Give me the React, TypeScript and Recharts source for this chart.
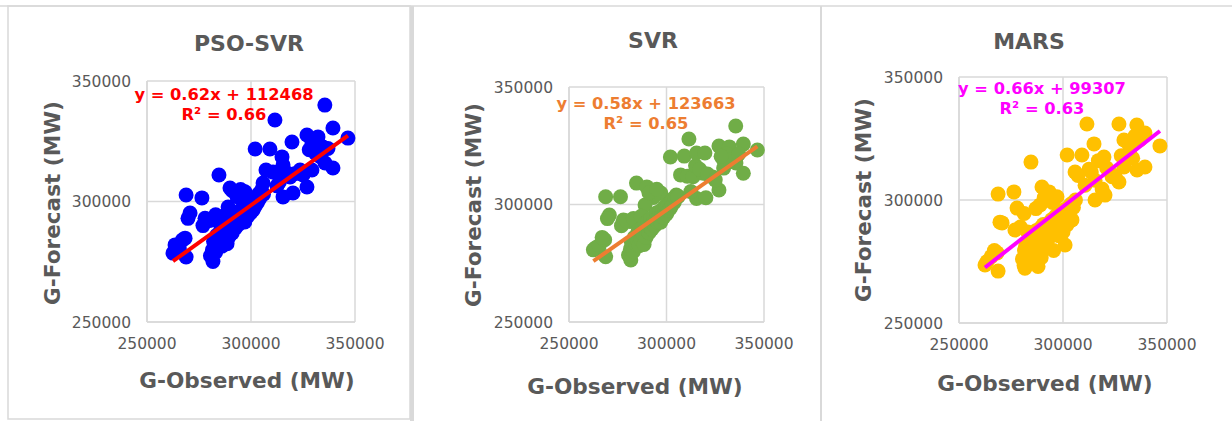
import { ScatterChart, Scatter, XAxis, YAxis, CartesianGrid } from "recharts";

// Test-set observations (MW), shared by all three models
const observed = [
  262500, 263500, 265500, 268300, 268800, 267000, 268800, 270700, 269700, 276400,
  277900, 281300, 276900, 279500, 283000, 284600, 289900, 297100, 293300, 289000,
  291000, 295000, 287000, 281700, 281300,
  280500, 281500, 282000, 283000, 283500, 284000, 285000, 285500, 286000, 286500,
  287000, 287500, 288000, 288500, 289000, 289500, 290000, 290500, 291000, 291500,
  292000, 292500, 293000, 293500, 294000, 294500, 295000, 295500, 296000, 296500,
  297000, 297500, 298000, 298500, 299000, 299500, 300000, 300500, 301000, 301500,
  302000, 302500, 303000, 303500, 304000, 304300, 305000, 306000,
  302000, 305800, 307200, 309100, 310600, 311500, 313600, 314900, 315400, 315400,
  318800, 319700, 320200, 323600, 326900, 326900, 329300, 329300, 332200, 334600,
  335500, 335600, 339400, 339400, 346600, 312500, 317000, 321000, 325000, 331000,
  333500, 337000, 328000,
];

const psoForecast = [
  278600, 282000, 280500, 284800, 277000, 284000, 302700, 295200, 293000, 301500,
  293000, 292300, 290000, 292000, 294500, 311000, 305600, 304000, 302000, 297700,
  304500, 305000, 294000, 275100, 278600,
  277500, 280000, 283500, 279000, 286000, 282500, 284000, 288500, 281500, 286500,
  284000, 289500, 287000, 282500, 291500, 285500, 288500, 292500, 287000, 290000,
  293500, 289000, 291500, 295000, 290500, 293000, 296500, 292000, 294500, 297500,
  291500, 295500, 298500, 294000, 297000, 300000, 295500, 298500, 296500, 300500,
  298000, 301500, 299500, 303000, 301000, 302000, 304500, 303000,
  321800, 307700, 313100, 321800, 312200, 333800, 308000, 318500, 315100, 301900,
  310200, 324700, 303500, 313100, 306000, 327600, 324300, 313100, 326800, 322600,
  340000, 316000, 330500, 313900, 326300, 306500, 312000, 311500, 311000, 320000,
  318500, 322000, 321500,
];

const svrForecast = [
  280700, 281500, 282500, 285000, 277800, 286000, 303300, 295500, 294000, 303300,
  293400, 292800, 291000, 293000, 294000, 309100, 307500, 304900, 303000, 299800,
  305000, 306500, 295000, 276400, 279000,
  278500, 281000, 284000, 280000, 286000, 283500, 285000, 289000, 282500, 287000,
  285000, 290000, 287500, 283000, 292000, 286000, 289000, 293000, 288000, 290500,
  294000, 289500, 292000, 295000, 291000, 293500, 296500, 292500, 295000, 297000,
  292500, 296000, 298000, 294500, 297500, 299500, 296000, 299000, 297500, 300500,
  298500, 301500, 300000, 302500, 301000, 303000, 304000, 303500,
  320200, 303300, 312600, 320600, 312000, 327900, 311800, 316500, 321900, 302600,
  313300, 321900, 302900, 311700, 306200, 324900, 318900, 315500, 324500, 320000,
  333400, 317700, 325700, 313300, 323200, 305500, 315000, 313000, 310500, 321500,
  319000, 321500, 320500,
];

const marsForecast = [
  273600, 275000, 277000, 278500, 271100, 279500, 302400, 290700, 291000, 303300,
  296700, 294500, 287800, 289000, 287000, 315400, 305300, 301300, 303300, 298000,
  301000, 299000, 296500, 272300, 273500,
  276000, 279500, 281000, 274000, 283500, 278000, 276500, 285000, 280500, 283000,
  287500, 278500, 273000, 284500, 288500, 276500, 282000, 290000, 285500, 280500,
  287500, 283500, 290500, 285000, 288000, 292000, 286500, 279500, 290000, 293500,
  288500, 291000, 285500, 294500, 289500, 292500, 287000, 296000, 281700, 293000,
  290000, 295500, 297500, 292500, 298500, 291900, 297000, 300000,
  318300, 311400, 310000, 318300, 306000, 330900, 311400, 322800, 308000, 300000,
  304500, 317500, 302000, 309500, 307300, 330900, 324400, 313400, 320700, 326000,
  330500, 312200, 327200, 313400, 322000, 312500, 316000, 313000, 310000, 323500,
  317000, 324500, 318000,
];

const titles = ["PSO-SVR", "SVR", "MARS"];
const slopes = [0.62, 0.58, 0.66];
const intercepts = [112468, 123663, 99307];
const rSquared = ["0.66", "0.65", "0.63"];
const axisTicks = [250000, 300000, 350000];

const forecasts = [psoForecast, svrForecast, marsForecast];
const pointColors = ["#0000FF", "#70AD47", "#FFC000"];
const lineColors = ["#FF0000", "#ED7D31", "#FF00FF"];

const FONT = "'DejaVu Sans', Verdana, sans-serif";
const GRAY = "#595959";
const GRID = "#D9D9D9";

// per-panel layout: chart box, plot margins, label anchors (page coords)
const panels = [
  { left: 0, width: 410, margin: { top: 81, right: 55, bottom: 69, left: 87 },
    title: [249, 43], yTitle: [52, 203], xTitle: [247, 380], eq: [224, 94] },
  { left: 410, width: 410, margin: { top: 87, right: 56, bottom: 69, left: 99 },
    title: [653, 40], yTitle: [473, 205], xTitle: [635, 386], eq: [646, 103] },
  { left: 820, width: 412, margin: { top: 77, right: 65, bottom: 68, left: 79 },
    title: [1029, 41], yTitle: [863, 200], xTitle: [1045, 383], eq: [1042, 88] },
];

const xMin = Math.min(...observed);
const xMax = Math.max(...observed);

function Panel({ idx }: { idx: number }) {
  const p = panels[idx];
  const data = observed.map((x, i) => ({ x, y: forecasts[idx][i] }));
  const fit = (x: number) => slopes[idx] * x + intercepts[idx];
  const trend = [
    { x: xMin, y: fit(xMin) },
    { x: xMax, y: fit(xMax) },
  ];
  const color = pointColors[idx];

  return (
    <div style={{ position: "absolute", left: p.left, top: 0 }}>
      <ScatterChart width={p.width} height={421} margin={p.margin}>
        <CartesianGrid stroke={GRID} strokeWidth={1.5} />
        <XAxis
          type="number"
          dataKey="x"
          domain={[250000, 350000]}
          ticks={axisTicks}
          height={30}
          tickLine={false}
          tickMargin={10}
          axisLine={{ stroke: GRID, strokeWidth: 1.5 }}
          tick={{ fill: GRAY, fontSize: 15.5, fontFamily: FONT }}
        />
        <YAxis
          type="number"
          dataKey="y"
          domain={[250000, 350000]}
          ticks={axisTicks}
          width={60}
          tickLine={false}
          tickMargin={10}
          axisLine={{ stroke: GRID, strokeWidth: 1.5 }}
          tick={{ fill: GRAY, fontSize: 15.5, fontFamily: FONT }}
        />
        <Scatter
          data={data}
          fill={color}
          isAnimationActive={false}
          shape={(props: any) => <circle cx={props.cx} cy={props.cy} r={7.5} fill={color} />}
        />
        <Scatter
          data={trend}
          fill="none"
          line={{ stroke: lineColors[idx], strokeWidth: 4 }}
          isAnimationActive={false}
          shape={() => <g />}
        />
      </ScatterChart>
    </div>
  );
}

export default function App() {
  return (
    <div style={{ position: "absolute", left: 0, top: 0, width: 1232, height: 421, background: "#fff" }}>
      {[0, 1, 2].map((i) => (
        <Panel key={i} idx={i} />
      ))}
      <svg width={1232} height={421} style={{ position: "absolute", left: 0, top: 0, pointerEvents: "none" }}>
        {/* panel frames */}
        <line x1={0} y1={6} x2={1232} y2={6} stroke={GRID} strokeWidth={1.5} />
        <rect x={8} y={6} width={402} height={413} fill="none" stroke={GRID} strokeWidth={1.5} />
        <line x1={412} y1={6} x2={412} y2={421} stroke={GRID} strokeWidth={4} />
        <line x1={821} y1={6} x2={821} y2={421} stroke={GRID} strokeWidth={2} />
        {panels.map((p, i) => (
          <g key={i} fontFamily={FONT} fontWeight="bold">
            <text x={p.title[0]} y={p.title[1]} textAnchor="middle" dominantBaseline="central" fill={GRAY} fontSize={22}>
              {titles[i]}
            </text>
            <text
              x={p.yTitle[0]}
              y={p.yTitle[1]}
              textAnchor="middle"
              dominantBaseline="central"
              fill={GRAY}
              fontSize={21.6}
              transform={`rotate(-90 ${p.yTitle[0]} ${p.yTitle[1]})`}
            >
              G-Forecast (MW)
            </text>
            <text x={p.xTitle[0]} y={p.xTitle[1]} textAnchor="middle" dominantBaseline="central" fill={GRAY} fontSize={21.6}>
              G-Observed (MW)
            </text>
            <text x={p.eq[0]} y={p.eq[1]} textAnchor="middle" dominantBaseline="central" fill={lineColors[i]} fontSize={16.3}>
              {`y = ${slopes[i]}x + ${intercepts[i]}`}
            </text>
            <text x={p.eq[0]} y={p.eq[1] + 20} textAnchor="middle" dominantBaseline="central" fill={lineColors[i]} fontSize={16.3}>
              {`R² = ${rSquared[i]}`}
            </text>
          </g>
        ))}
      </svg>
    </div>
  );
}
